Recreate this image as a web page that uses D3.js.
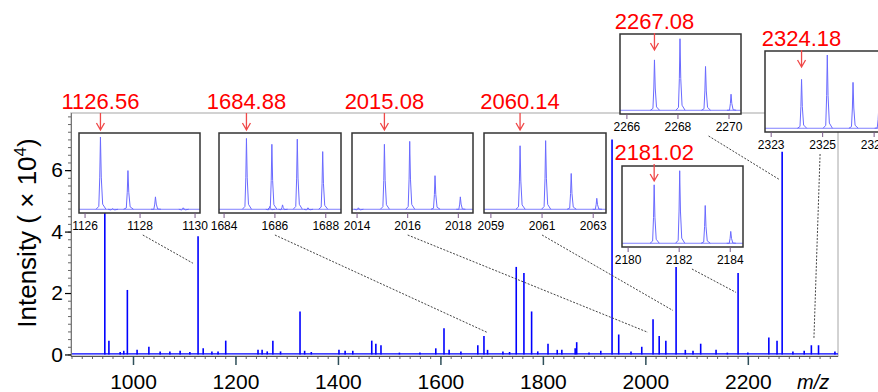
<!DOCTYPE html>
<html>
<head>
<meta charset="utf-8">
<script src="https://cdn.jsdelivr.net/npm/d3@7"></script>
<style>
  body { margin: 0; background: #fff; }
  svg { display: block; font-family: "Liberation Sans", Arial, sans-serif; }
</style>
</head>
<body>
<svg id="spectrum" width="878" height="392"></svg>
<script>
// main spectrum: m/z and intensity (x 10^4)
const peakMz = [
  945, 953, 975, 982, 989, 1008, 1031, 1053, 1072, 1092,
  1111, 1127, 1137, 1154, 1166, 1181, 1244, 1252, 1262, 1273,
  1288, 1326, 1335, 1348, 1402, 1414, 1429, 1466, 1474, 1484,
  1520, 1560, 1591, 1607, 1617, 1640, 1673, 1685, 1692, 1722,
  1735, 1748, 1763, 1778, 1790, 1810, 1828, 1837, 1863, 1866,
  1890, 1913, 1935, 1948, 1972, 1993, 2015, 2027, 2040, 2060,
  2078, 2093, 2108, 2138, 2160, 2181, 2200, 2241, 2257, 2267,
  2288, 2310, 2324, 2338, 2370
];
const peakIntensity = [
  6.00, 0.45, 0.08, 0.12, 2.10, 0.15, 0.25, 0.10, 0.10, 0.12,
  0.08, 3.85, 0.20, 0.10, 0.10, 0.45, 0.15, 0.15, 0.10, 0.45,
  0.10, 1.40, 0.12, 0.08, 0.15, 0.12, 0.12, 0.45, 0.35, 0.30,
  0.06, 0.06, 0.20, 0.85, 0.15, 0.10, 0.30, 0.60, 0.15, 0.10,
  0.08, 2.85, 2.65, 1.40, 0.10, 0.35, 0.15, 0.15, 0.20, 0.40,
  0.06, 0.12, 7.00, 0.65, 0.10, 0.25, 1.15, 0.60, 0.45, 2.85,
  0.15, 0.12, 0.35, 0.15, 0.06, 2.65, 0.06, 0.55, 0.45, 6.60,
  0.10, 0.12, 0.30, 0.30, 0.10
];
const xTickValues = [1000, 1200, 1400, 1600, 1800, 2000, 2200];
const yTickValues = [0, 2, 4, 6];

// annotated ions, one entry per inset
const ionLabels = ['1126.56', '1684.88', '2015.08', '2060.14', '2267.08', '2324.18', '2181.02'];
const isoMz = [
  [1126.56, 1127.00, 1127.56, 1128.56, 1129.57],
  [1684.88, 1685.80, 1685.88, 1686.30, 1686.88, 1687.30, 1687.88],
  [2014.05, 2015.08, 2016.08, 2017.08, 2018.08],
  [2060.14, 2061.14, 2062.14, 2063.14],
  [2267.08, 2268.08, 2269.08, 2270.08],
  [2324.18, 2325.18, 2326.18, 2327.18],
  [2181.02, 2182.02, 2183.02, 2184.02]
];
const isoRel = [
  [1.00, 0.02, 0.54, 0.18, 0.03],
  [0.98, 0.05, 0.90, 0.07, 0.97, 0.03, 0.80],
  [0.03, 0.90, 0.94, 0.47, 0.18],
  [0.88, 0.95, 0.50, 0.16],
  [0.70, 0.99, 0.61, 0.23],
  [0.67, 1.00, 0.63, 0.28],
  [0.80, 0.99, 0.52, 0.17]
];
const insetDomains = [
  [1125.78, 1130.18], [1683.80, 1688.60], [2013.80, 2018.58], [2058.73, 2063.50],
  [2265.73, 2270.47], [2322.76, 2327.50], [2179.76, 2184.50]
];
const insetTicks = [
  [1126, 1128, 1130], [1684, 1686, 1688], [2014, 2016, 2018], [2059, 2061, 2063],
  [2266, 2268, 2270], [2323, 2325, 2327], [2180, 2182, 2184]
];
// dotted connector: start (inset m/z), end (main m/z, intensity)
const connectorFrom = [1128.1, 1686.0, 2016.0, 2061.0, 2269.2, 2324.9, 2182.5];
const connectorTo = [[1117, 2.97], [1691, 0.72], [2005, 0.72], [2054, 1.43], [2261, 5.7], [2329, 0.52], [2177, 2.02]];

// layout of the inset boxes: x, y, width, height, label baseline
const insetBoxes = [
  [79, 133, 121, 80, 109], [219, 133, 122, 80, 109], [352, 133, 121, 80, 109], [484, 133, 122, 80, 109],
  [620, 34, 121, 80, 29], [765, 51, 122, 81, 46], [622, 166, 121, 81, 160]
];

const svg = d3.select('#spectrum');
const x = d3.scaleLinear().domain([879, 2376]).range([71, 838]);
const y = d3.scaleLinear().domain([-0.05, 7.86]).range([356, 113]);

function drawFrame() {
  svg.append('rect')
    .attr('x', 71).attr('y', 113)
    .attr('width', 838 - 71).attr('height', 356 - 113)
    .attr('fill', 'none').attr('stroke', '#c4c4c4').attr('stroke-width', 1.5);
}

function drawAxes() {
  // minor ticks
  const xm = svg.append('g').attr('transform', 'translate(0,356)')
    .call(d3.axisBottom(x).tickValues(d3.range(880, 2376, 20)).tickSize(3).tickFormat(''));
  xm.select('.domain').remove();
  xm.selectAll('line').attr('stroke', '#666');

  const ym = svg.append('g').attr('transform', 'translate(71,0)')
    .call(d3.axisLeft(y).tickValues(d3.range(0, 7.8, 0.25)).tickSize(3).tickFormat(''));
  ym.select('.domain').remove();
  ym.selectAll('line').attr('stroke', '#666');

  // major ticks
  const xa = svg.append('g').attr('transform', 'translate(0,356)')
    .call(d3.axisBottom(x).tickValues(xTickValues).tickSize(9).tickPadding(9).tickFormat(d3.format('d')));
  xa.select('.domain').attr('stroke', '#555').attr('d', 'M71,0.5H838');
  xa.selectAll('line').attr('stroke', '#2f4f5a').attr('stroke-width', 1.5);
  xa.selectAll('text').attr('font-size', 21).attr('fill', '#000').attr('font-family', 'Liberation Sans, Arial');

  const ya = svg.append('g').attr('transform', 'translate(71,0)')
    .call(d3.axisLeft(y).tickValues(yTickValues).tickSize(6).tickPadding(2));
  ya.select('.domain').attr('stroke', '#777').attr('d', 'M0.5,113V356');
  ya.selectAll('line').attr('stroke', '#000').attr('stroke-width', 1.2);
  ya.selectAll('text').attr('font-size', 21).attr('fill', '#000').attr('font-family', 'Liberation Sans, Arial');

  svg.append('text')
    .attr('x', 797).attr('y', 389)
    .attr('font-size', 20).attr('font-style', 'italic')
    .text('m/z');

  const title = svg.append('text')
    .attr('transform', 'translate(36,233) rotate(-90)')
    .attr('text-anchor', 'middle')
    .attr('font-size', 26);
  title.append('tspan').text('Intensity ( \u00d7 10');
  title.append('tspan').attr('font-size', 17).attr('dy', -10).text('4');
  title.append('tspan').attr('dy', 10).text(')');
}

function drawSpectrum() {
  svg.append('line')
    .attr('x1', x(879)).attr('x2', x(2376))
    .attr('y1', y(0.02)).attr('y2', y(0.02))
    .attr('stroke', '#0000ff').attr('stroke-width', 1.3);

  svg.append('g')
    .selectAll('line')
    .data(peakMz)
    .enter()
    .append('line')
    .attr('x1', d => x(d)).attr('x2', d => x(d))
    .attr('y1', y(0))
    .attr('y2', (d, i) => y(peakIntensity[i]))
    .attr('stroke', '#0000ff')
    .attr('stroke-width', 1.6);
}

function drawConnectors() {
  insetBoxes.forEach((b, i) => {
    const ix = d3.scaleLinear().domain(insetDomains[i]).range([b[0], b[0] + b[2]]);
    svg.append('line')
      .attr('x1', ix(connectorFrom[i])).attr('y1', b[1] + b[3] + 22)
      .attr('x2', x(connectorTo[i][0])).attr('y2', y(connectorTo[i][1]))
      .attr('stroke', '#444').attr('stroke-width', 1)
      .attr('stroke-dasharray', '2,1.5');
  });
}

function peakShape(mz, h) {
  return [[mz - 0.16, 0.01], [mz - 0.06, 0.05 * h], [mz - 0.025, 0.45 * h], [mz, h],
    [mz + 0.03, 0.45 * h], [mz + 0.08, 0.08 * h], [mz + 0.2, 0.01]];
}

function drawInsets() {
  insetBoxes.forEach((b, i) => {
    const [bx, by, bw, bh, ly] = b;
    const ix = d3.scaleLinear().domain(insetDomains[i]).range([bx, bx + bw]);
    const iy = d3.scaleLinear().domain([0, 1]).range([by + bh - 3, by + 4]);
    const g = svg.append('g');

    g.append('clipPath').attr('id', 'clip' + i)
      .append('rect').attr('x', bx).attr('y', by).attr('width', bw).attr('height', bh);

    g.append('rect')
      .attr('x', bx).attr('y', by).attr('width', bw).attr('height', bh)
      .attr('fill', '#fff');

    const line = d3.line().x(d => ix(d[0])).y(d => iy(d[1]));
    const plot = g.append('g').attr('clip-path', 'url(#clip' + i + ')');
    plot.append('path')
      .datum(insetDomains[i].map(d => [d, 0.01]))
      .attr('d', line)
      .attr('fill', 'none').attr('stroke', '#8080ff').attr('stroke-width', 1);
    isoMz[i].forEach((mz, k) => {
      plot.append('path')
        .datum(peakShape(mz, isoRel[i][k]))
        .attr('d', line)
        .attr('fill', 'none').attr('stroke', '#6a6aff').attr('stroke-width', 1);
    });

    g.append('rect')
      .attr('x', bx).attr('y', by).attr('width', bw).attr('height', bh)
      .attr('fill', 'none').attr('stroke', '#333').attr('stroke-width', 1.5);

    g.selectAll('.itick')
      .data(insetTicks[i])
      .enter()
      .append('line')
      .attr('class', 'itick')
      .attr('x1', d => ix(d)).attr('x2', d => ix(d))
      .attr('y1', by + bh).attr('y2', by + bh + 5)
      .attr('stroke', '#7a5a8a');
    g.selectAll('.ilabel')
      .data(insetTicks[i])
      .enter()
      .append('text')
      .attr('class', 'ilabel')
      .attr('x', d => ix(d)).attr('y', by + bh + 17)
      .attr('text-anchor', 'middle')
      .attr('font-size', 12)
      .text(d => d);

    // red label with arrow
    const lx = ix(parseFloat(ionLabels[i]));
    svg.append('text')
      .attr('x', lx).attr('y', ly)
      .attr('text-anchor', 'middle')
      .attr('font-size', 22).attr('fill', '#ff0000')
      .text(ionLabels[i]);
    const a0 = ly + 4, a1 = ly + 21;
    svg.append('path')
      .attr('d', `M${lx},${a0}V${a1}M${lx - 4},${a1 - 7}L${lx},${a1}L${lx + 4},${a1 - 7}`)
      .attr('fill', 'none').attr('stroke', '#f04848').attr('stroke-width', 1.3);
  });
}

drawFrame();
drawSpectrum();
drawAxes();
drawConnectors();
drawInsets();
</script>
</body>
</html>
